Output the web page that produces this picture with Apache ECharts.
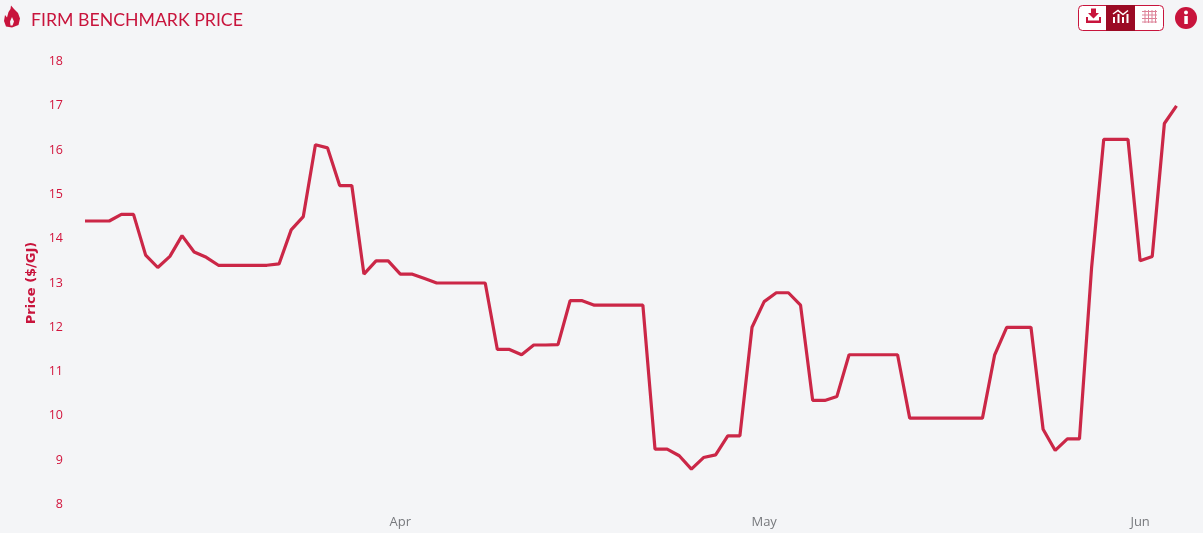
<!DOCTYPE html>
<html>
<head>
<meta charset="utf-8">
<script src="https://cdn.jsdelivr.net/npm/echarts@6/dist/echarts.min.js"></script>
<style>html,body{margin:0;padding:0;background:#f4f5f7}#c{width:1203px;height:533px}</style>
</head>
<body>
<div id="c"></div>
<script>
const titleText = 'FIRM BENCHMARK PRICE';
const yAxisName = 'Price ($/GJ)';
const dates = [
 '03-06','03-07','03-08','03-09','03-10','03-11','03-12','03-13','03-14','03-15','03-16','03-17','03-18','03-19','03-20','03-21','03-22','03-23','03-24','03-25','03-26','03-27','03-28','03-29','03-30','03-31',
 '04-01','04-02','04-03','04-04','04-05','04-06','04-07','04-08','04-09','04-10','04-11','04-12','04-13','04-14','04-15','04-16','04-17','04-18','04-19','04-20','04-21','04-22','04-23','04-24','04-25','04-26','04-27','04-28','04-29','04-30',
 '05-01','05-02','05-03','05-04','05-05','05-06','05-07','05-08','05-09','05-10','05-11','05-12','05-13','05-14','05-15','05-16','05-17','05-18','05-19','05-20','05-21','05-22','05-23','05-24','05-25','05-26','05-27','05-28','05-29','05-30','05-31',
 '06-01','06-02','06-03','06-04'];
const prices = [
 14.4,14.4,14.4,14.55,14.55,13.63,13.35,13.6,14.07,13.7,13.58,13.4,13.4,13.4,13.4,13.4,13.43,14.2,14.5,16.12,16.05,15.2,15.2,13.2,13.5,13.5,
 13.2,13.2,13.1,13.0,13.0,13.0,13.0,13.0,11.5,11.5,11.38,11.6,11.6,11.61,12.6,12.6,12.5,12.5,12.5,12.5,12.5,9.25,9.25,9.1,8.8,9.06,9.12,9.55,9.55,12.0,
 12.58,12.78,12.78,12.5,10.35,10.35,10.44,11.38,11.38,11.38,11.38,11.38,9.95,9.95,9.95,9.95,9.95,9.95,9.95,11.37,12.0,12.0,12.0,9.7,9.22,9.48,9.48,13.35,16.24,16.24,16.24,
 13.5,13.6,16.6,17.0];
const monthNames = {'04':'Apr','05':'May','06':'Jun'};

const LINE = '#cb2747', DARK = '#9b0a24', UI = '#c8143c', PALE = '#dd8298';
const rect = (x,y,w,h,fill) => ({type:'rect',shape:{x,y,width:w,height:h},style:{fill}});
const poly = (points,fill) => ({type:'polygon',shape:{points},style:{fill}});
const gridIcon = [];
[1144.5,1148,1151.5,1155].forEach(x=>gridIcon.push(rect(x,10,1,13,PALE)));
[11,14.5,18,21.5].forEach(y=>gridIcon.push(rect(1142,y,15,1,PALE)));

const chart = echarts.init(document.getElementById('c'), null, {renderer:'canvas'});
chart.setOption({
  animation:false,
  backgroundColor:'#f4f5f7',
  title:{text:titleText,left:31,top:11,padding:0,textStyle:{fontFamily:'Lato',fontSize:17.7,fontWeight:'normal',color:UI}},
  grid:{left:85,right:26.5,top:61.5,bottom:28.5},
  xAxis:{type:'category',data:dates,boundaryGap:false,
    axisLine:{show:false},axisTick:{show:false},splitLine:{show:false},
    axisLabel:{color:'#77797d',fontFamily:'Open Sans',fontSize:13,margin:11,
      interval:(i,v)=>v.endsWith('-01'),formatter:v=>monthNames[v.slice(0,2)]}},
  yAxis:{type:'value',min:8,max:18,interval:1,
    name:yAxisName,nameLocation:'middle',nameGap:44,
    nameTextStyle:{color:UI,fontFamily:'DejaVu Sans',fontSize:13,fontWeight:'bold'},
    axisLine:{show:false},axisTick:{show:false},splitLine:{show:false},
    axisLabel:{color:'#d2143c',fontFamily:'Open Sans',fontSize:12.5,margin:22,padding:[2,0,0,0]}},
  series:[{type:'line',data:prices,showSymbol:false,symbol:'none',smooth:false,
    lineStyle:{color:LINE,width:3.2}}],
  graphic:{elements:[
    poly([[11,5.5],[14,9],[18,13],[20,18.5],[18.5,25],[12,27.5],[6,26.5],[4,21],[5,15],[7,17.5],[8.500,12],[10.5,9]],UI),
    poly([[12,17],[14,21.5],[12.5,25.5],[10.5,25.5],[10,21.5]],'#f4f5f7'),
    {type:'rect',shape:{x:1078.5,y:5.5,width:85,height:25,r:4},style:{fill:'#fff',stroke:UI,lineWidth:1}},
    rect(1106,5,29,26,DARK),
    poly([[1091,8.5],[1096,8.5],[1096,13],[1099,13],[1093.5,18.5],[1088,13],[1091,13]],UI),
    poly([[1086,17],[1088,17],[1088,20.5],[1099,20.5],[1099,17],[1101,17],[1101,23],[1086,23]],UI),
    rect(1113,17,2,6,'#fff'),rect(1117.5,14,2,9,'#fff'),rect(1122,17,2,6,'#fff'),rect(1126.5,14,2,9,'#fff'),
    {type:'polyline',shape:{points:[[1113,14],[1118,10.5],[1123,14.5],[1128,10.5]]},style:{stroke:'#fff',fill:'none',lineWidth:1.5}},
    ...gridIcon,
    {type:'circle',shape:{cx:1186,cy:18,r:11},style:{fill:UI}},
    rect(1184.3,16,3.5,8,'#fff'),
    {type:'circle',shape:{cx:1186,cy:12.5,r:2},style:{fill:'#fff'}}
  ]}
});
</script>
</body>
</html>
